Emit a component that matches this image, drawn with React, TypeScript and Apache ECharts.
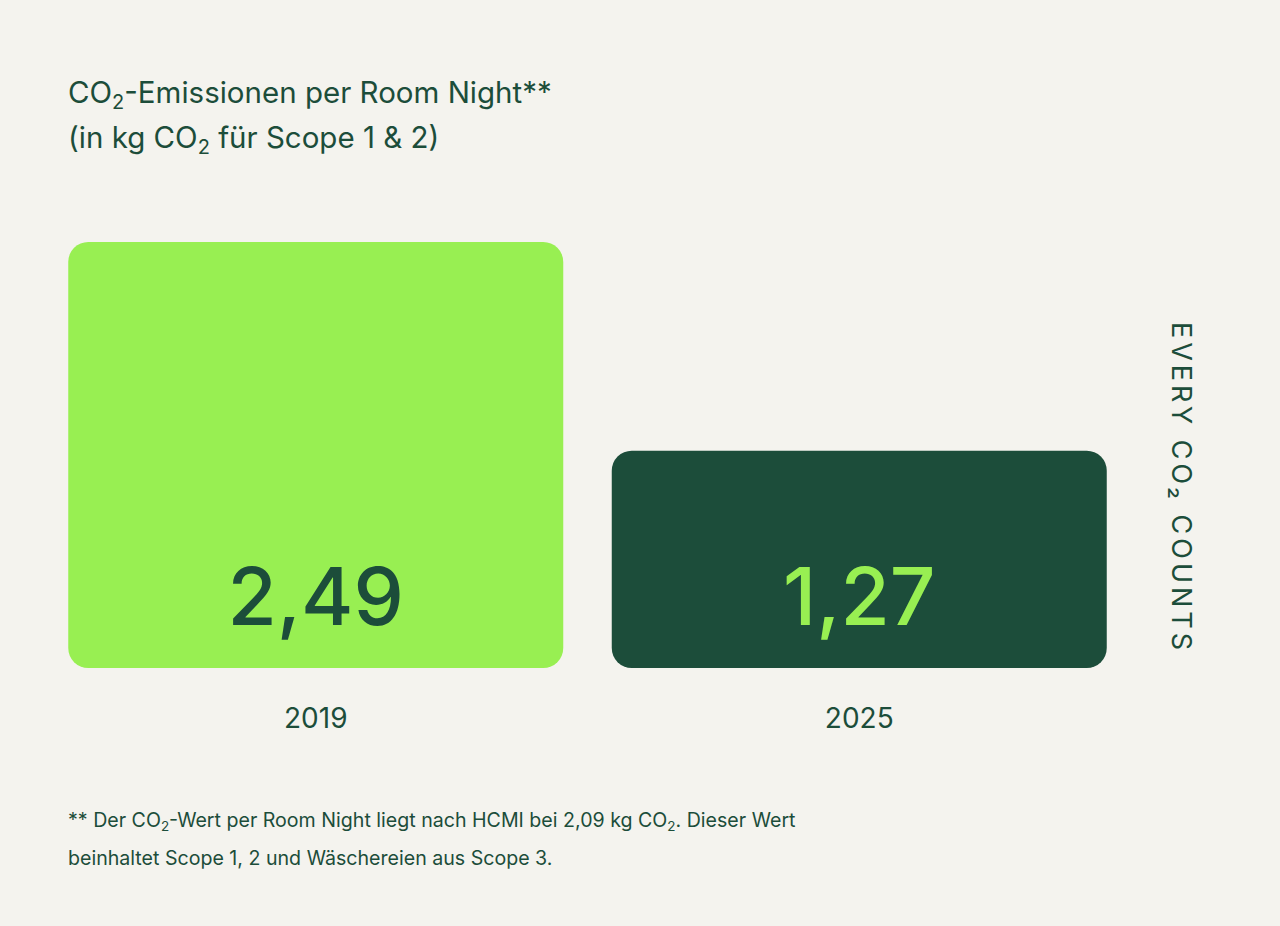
import React, { useEffect, useRef } from "react";
import * as echarts from "echarts";

const years = ["2019", "2025"];
const values = [2.49, 1.27];
const valueLabels = ["2,49", "1,27"];

const BG = "#F4F3EE";
const DARK = "#1C4D3A";
const LIME = "#98EF52";
const barColors = [LIME, DARK];
const labelColors = [DARK, LIME];
const FONT = "Inter";
const SIDE_TEXT = "EVERY CO₂ COUNTS";

const App: React.FC = () => {
  const chartRef = useRef<HTMLDivElement>(null);

  useEffect(() => {
    document.body.style.margin = "0";
    const chart = echarts.init(chartRef.current!, null, { renderer: "svg" });

    const option: echarts.EChartsOption = {
      animation: false,
      backgroundColor: BG,
      grid: { left: 44, right: 149, top: 242, bottom: 258 },
      xAxis: {
        type: "category",
        data: years,
        axisLine: { show: false },
        axisTick: { show: false },
        axisLabel: {
          margin: 36,
          fontSize: 28,
          fontFamily: FONT,
          color: DARK,
        },
      },
      yAxis: {
        type: "value",
        min: 0,
        max: 2.49,
        show: false,
        splitLine: { show: false },
      },
      series: [
        {
          type: "bar",
          barWidth: 495,
          data: values.map((v, i) => ({
            value: v,
            itemStyle: { color: barColors[i], borderRadius: 20 },
            label: { color: labelColors[i] },
          })),
          label: {
            show: true,
            position: "insideBottom",
            distance: 33,
            fontSize: 80,
            fontWeight: 500,
            fontFamily: FONT,
            formatter: (p: any) => valueLabels[p.dataIndex],
          },
        },
      ],
      graphic: [
        {
          type: "text",
          left: 68,
          top: 72,
          style: {
            text: "{t|CO}{ts|2}{t|-Emissionen per Room Night**}\n{t|(in kg CO}{ts|2}{t| für Scope 1 & 2)}",
            fill: DARK,
            rich: {
              t: { fontSize: 29.5, lineHeight: 45, fontFamily: FONT, fill: DARK },
              ts: {
                fontSize: 20,
                lineHeight: 45,
                fontFamily: FONT,
                fill: DARK,
                padding: [20, 0, 0, 0],
              },
            },
          } as any,
        },
        {
          type: "text",
          left: 68,
          top: 807,
          style: {
            text:
              "{f|** Der CO}{fs|2}{f|-Wert per Room Night liegt nach HCMI bei 2,09 kg CO}{fs|2}{f|. Dieser Wert}\n{f|beinhaltet Scope 1, 2 und Wäschereien aus Scope 3.}",
            fill: DARK,
            rich: {
              f: { fontSize: 19.6, lineHeight: 38, fontFamily: FONT, fill: DARK },
              fs: {
                fontSize: 13.5,
                lineHeight: 38,
                fontFamily: FONT,
                fill: DARK,
                padding: [12, 0, 0, 0],
              },
            },
          } as any,
        },
        {
          type: "text",
          x: 1181,
          y: 488,
          rotation: -Math.PI / 2,
          style: {
            text: SIDE_TEXT,
            align: "center",
            verticalAlign: "middle",
            fontSize: 27,
            fontFamily: FONT,
            fill: DARK,
          },
        },
      ],
    };

    chart.setOption(option);

    // ECharts has no letter-spacing, so widen the side text in the SVG
    chartRef.current!.querySelectorAll("text").forEach((t) => {
      if (t.textContent === SIDE_TEXT) {
        (t as SVGTextElement).style.letterSpacing = "4px";
      }
    });

    return () => {
      chart.dispose();
    };
  }, []);

  return <div ref={chartRef} style={{ width: "1280px", height: "926px" }} />;
};

export default App;
